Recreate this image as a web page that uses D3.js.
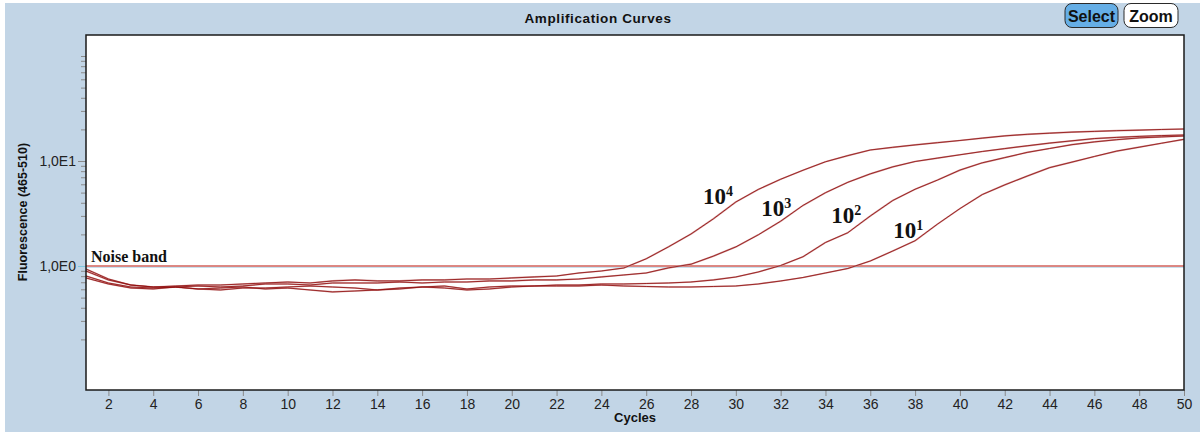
<!DOCTYPE html>
<html>
<head>
<meta charset="utf-8">
<script src="https://cdn.jsdelivr.net/npm/d3@7/dist/d3.min.js"></script>
<style>
  html, body { margin: 0; padding: 0; background: #ffffff; }
  svg { display: block; }
</style>
</head>
<body>
<svg id="chart" width="1200" height="432"></svg>
<script>
// PCR cycle numbers
const cycles = [1,2,3,4,5,6,7,8,9,10,11,12,13,14,15,16,17,18,19,20,21,22,23,24,25,
                26,27,28,29,30,31,32,33,34,35,36,37,38,39,40,41,42,43,44,45,46,47,48,49,50];

// Fluorescence (465-510) per cycle for each template dilution
const curve1e4 = [0.896,0.736,0.659,0.631,0.645,0.659,0.659,0.674,0.689,0.704,
                  0.689,0.720,0.736,0.720,0.720,0.736,0.736,0.752,0.752,0.769,
                  0.786,0.803,0.858,0.896,0.957,1.171,1.524,2.018,2.815,4.07,
                  5.36,6.70,8.17,9.83,11.26,12.73,13.5,14.23,14.94,15.68,
                  16.52,17.34,17.96,18.40,18.85,19.14,19.44,19.68,19.96,20.17];
const curve1e3 = [0.936,0.752,0.659,0.631,0.631,0.645,0.631,0.645,0.674,0.674,
                  0.659,0.689,0.689,0.689,0.704,0.689,0.704,0.704,0.720,0.720,
                  0.736,0.736,0.752,0.786,0.821,0.858,0.96,1.04,1.242,1.520,
                  1.979,2.671,3.777,4.99,6.27,7.54,8.79,9.89,10.66,11.46,
                  12.32,13.13,13.96,14.81,15.57,16.35,16.78,17.15,17.46,17.69];
const curve1e2 = [0.803,0.689,0.631,0.617,0.631,0.604,0.617,0.631,0.604,0.617,
                  0.591,0.566,0.578,0.591,0.617,0.631,0.617,0.591,0.604,0.631,
                  0.645,0.659,0.659,0.674,0.674,0.681,0.689,0.704,0.736,0.786,
                  0.877,1.01,1.226,1.674,2.076,2.994,4.20,5.38,6.58,8.19,
                  9.61,10.77,12.07,13.15,14.3,15.2,15.95,16.6,16.96,17.3];
const curve1e1 = [0.769,0.674,0.617,0.604,0.631,0.604,0.591,0.617,0.617,0.631,
                  0.645,0.631,0.617,0.591,0.604,0.631,0.645,0.604,0.631,0.645,
                  0.645,0.645,0.645,0.659,0.645,0.638,0.631,0.631,0.638,0.645,
                  0.674,0.720,0.777,0.858,0.947,1.116,1.387,1.741,2.506,3.52,
                  4.79,5.92,7.18,8.64,9.76,11.04,12.43,13.53,14.77,16.09];

// Curve annotations: exponent, anchor cycle, anchor fluorescence
const curveLabels = [
  { exp: "4", cycle: 28.54, value: 3.89 },
  { exp: "3", cycle: 31.13, value: 2.99 },
  { exp: "2", cycle: 34.26, value: 2.57 },
  { exp: "1", cycle: 37.03, value: 1.85 }
];

// Noise band threshold
const noiseBand = 1.0;

// Axis ticks
const xTickValues = [2,4,6,8,10,12,14,16,18,20,22,24,26,28,30,32,34,36,38,40,42,44,46,48,50];
const yMajorTicks = [1, 10];
const yMajorLabels = ["1,0E0", "1,0E1"];
const yMinorTicks = [0.2,0.3,0.4,0.5,0.6,0.7,0.8,0.9,2,3,4,5,6,7,8,9,20,30,40,50,60,70,80,90,100];

const svg = d3.select("#chart");
const W = 1200, H = 432;
const plot = { left: 86, top: 35, right: 1184, bottom: 390 };

// Panel background
svg.append("rect").attr("x", 5).attr("y", 3).attr("width", W - 5).attr("height", H - 3)
   .attr("fill", "#c2d5e6");

const x = d3.scaleLinear().domain([1, 50]).range([plot.left, plot.right]);
const y = d3.scaleLog().domain([0.0659, 158.5]).range([plot.bottom, plot.top]);

// Plot area
svg.append("rect")
   .attr("x", plot.left).attr("y", plot.top)
   .attr("width", plot.right - plot.left).attr("height", plot.bottom - plot.top)
   .attr("fill", "#ffffff");

svg.append("clipPath").attr("id", "plotClip")
   .append("rect")
   .attr("x", plot.left).attr("y", plot.top)
   .attr("width", plot.right - plot.left).attr("height", plot.bottom - plot.top);

// Title
svg.append("text")
   .attr("x", 598).attr("y", 23)
   .attr("text-anchor", "middle")
   .attr("font-family", "'Liberation Sans', Arial, sans-serif")
   .attr("font-weight", "bold").attr("font-size", 13.5)
   .attr("letter-spacing", 0.6)
   .attr("fill", "#111")
   .text("Amplification Curves");

// Buttons
const buttons = [
  { label: "Select", x0: 1065, x1: 1118, fill: "#65aee6" },
  { label: "Zoom",   x0: 1124, x1: 1178, fill: "#ffffff" }
];
const btn = svg.append("g").selectAll("g").data(buttons).join("g");
btn.append("rect")
   .attr("x", d => d.x0).attr("y", 3.5)
   .attr("width", d => d.x1 - d.x0).attr("height", 24)
   .attr("rx", 7).attr("ry", 7)
   .attr("fill", d => d.fill)
   .attr("stroke", "#2a2a2a").attr("stroke-width", 1);
btn.append("text")
   .attr("x", d => (d.x0 + d.x1) / 2).attr("y", 21.5)
   .attr("text-anchor", "middle")
   .attr("font-family", "'Liberation Sans', Arial, sans-serif")
   .attr("font-weight", "bold").attr("font-size", 16)
   .attr("fill", "#111")
   .text(d => d.label);

// X axis
const xAxis = d3.axisBottom(x).tickValues(xTickValues).tickSize(6).tickPadding(3)
                .tickFormat(d3.format("d"));
const gx = svg.append("g").attr("transform", `translate(0,${plot.bottom})`).call(xAxis);
gx.select(".domain").remove();
gx.selectAll(".tick line").attr("stroke", "#8a8a8a");
gx.selectAll(".tick text")
  .attr("font-family", "'Liberation Sans Narrow', 'Liberation Sans', Arial, sans-serif")
  .attr("font-size", 14).attr("fill", "#222");

svg.append("text")
   .attr("x", 635).attr("y", 422)
   .attr("text-anchor", "middle")
   .attr("font-family", "'Liberation Sans', Arial, sans-serif")
   .attr("font-weight", "bold").attr("font-size", 13)
   .attr("fill", "#111")
   .text("Cycles");

// Y axis: minor ticks
const yMinor = d3.axisLeft(y).tickValues(yMinorTicks).tickSize(5).tickFormat("");
const gyMinor = svg.append("g").attr("transform", `translate(${plot.left},0)`).call(yMinor);
gyMinor.select(".domain").remove();
gyMinor.selectAll(".tick line").attr("stroke", "#8a8a8a");

// Y axis: labelled decades
const yMajor = d3.axisLeft(y).tickValues(yMajorTicks).tickSize(8).tickPadding(2)
                 .tickFormat((d, i) => yMajorLabels[i]);
const gyMajor = svg.append("g").attr("transform", `translate(${plot.left},0)`).call(yMajor);
gyMajor.select(".domain").remove();
gyMajor.selectAll(".tick line").attr("stroke", (d) => d === noiseBand ? "#7fc8de" : "#8a8a8a");
gyMajor.selectAll(".tick text")
  .attr("font-family", "'Liberation Sans Narrow', 'Liberation Sans', Arial, sans-serif")
  .attr("font-size", 14).attr("fill", "#222");

svg.append("text")
   .attr("transform", "translate(27,212) rotate(-90)")
   .attr("text-anchor", "middle")
   .attr("font-family", "'Liberation Sans', Arial, sans-serif")
   .attr("font-weight", "bold").attr("font-size", 12.5)
   .attr("fill", "#111")
   .text("Fluorescence (465-510)");

const plotG = svg.append("g").attr("clip-path", "url(#plotClip)");

// Noise band threshold line
plotG.append("line")
   .attr("x1", plot.left).attr("x2", plot.right)
   .attr("y1", y(noiseBand) + 1.3).attr("y2", y(noiseBand) + 1.3)
   .attr("stroke", "#b9d8ea").attr("stroke-width", 1);
plotG.append("line")
   .attr("x1", plot.left).attr("x2", plot.right)
   .attr("y1", y(noiseBand)).attr("y2", y(noiseBand))
   .attr("stroke", "#d2605a").attr("stroke-width", 1.3);

// Amplification curves
const series = [curve1e1, curve1e2, curve1e3, curve1e4];
const line = d3.line()
  .x((d, i) => x(cycles[i]))
  .y(d => y(d));
plotG.selectAll("path.halo").data(series).join("path")
  .attr("class", "halo")
  .attr("d", line)
  .attr("fill", "none")
  .attr("stroke", "#d39a9a").attr("stroke-width", 1.7)
  .attr("stroke-linejoin", "round");
plotG.selectAll("path.curve").data(series).join("path")
  .attr("class", "curve")
  .attr("d", line)
  .attr("fill", "none")
  .attr("stroke", "#8e0a0a").attr("stroke-width", 0.8)
  .attr("stroke-linejoin", "round");

// Noise band label
svg.append("text")
   .attr("x", x(1.22)).attr("y", y(1.09))
   .attr("font-family", "'Liberation Serif', 'Times New Roman', serif")
   .attr("font-weight", "bold").attr("font-size", 16)
   .attr("fill", "#111")
   .text("Noise band");

// Dilution labels (10^n)
const lbl = svg.append("g").selectAll("text").data(curveLabels).join("text")
   .attr("x", d => x(d.cycle)).attr("y", d => y(d.value))
   .attr("font-family", "'Liberation Serif', 'Times New Roman', serif")
   .attr("font-weight", "bold").attr("font-size", 23)
   .attr("fill", "#111");
lbl.append("tspan").text("10");
lbl.append("tspan").attr("dy", -8).attr("font-size", 14).text(d => d.exp);

// Plot frame
svg.append("rect")
   .attr("x", plot.left).attr("y", plot.top)
   .attr("width", plot.right - plot.left).attr("height", plot.bottom - plot.top)
   .attr("fill", "none")
   .attr("stroke", "#1a1a1a").attr("stroke-width", 1.5);
</script>
</body>
</html>
